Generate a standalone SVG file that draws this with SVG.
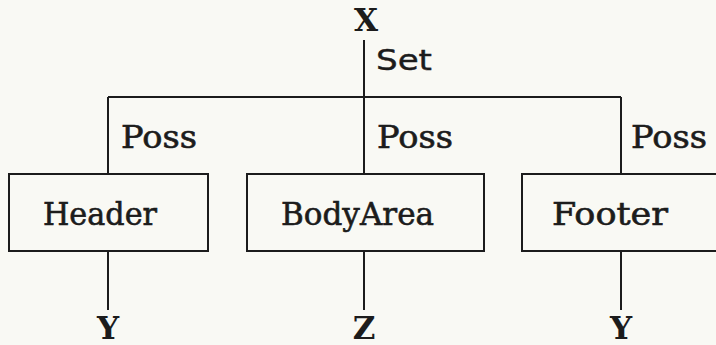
<svg xmlns="http://www.w3.org/2000/svg" width="716" height="345" viewBox="0 0 716 345">
  <style>
    .bg { fill: #f9f9f4; }
    .line { stroke: #1c1c1c; stroke-width: 2; fill: none; }
    .box { stroke: #1c1c1c; stroke-width: 2; fill: none; }
    .slab { font-family: "DejaVu Serif", "Liberation Serif", serif; font-size: 31px; fill: #1c1c1c; stroke: #1c1c1c; stroke-width: 0.6; }
    .end { font-weight: bold; stroke-width: 0; }
    .sans { font-family: "DejaVu Sans", "Liberation Sans", sans-serif; font-size: 28px; fill: #1c1c1c; stroke: #1c1c1c; stroke-width: 0.4; }
  </style>
  <rect class="bg" x="0" y="0" width="716" height="345"/>

  <!-- connectors and their labels -->
  <g id="connectors">
    <line class="line" x1="364" y1="40" x2="364" y2="174"/>
    <line class="line" x1="108" y1="97" x2="621" y2="97"/>
    <line class="line" x1="108" y1="97" x2="108" y2="174"/>
    <line class="line" x1="621" y1="97" x2="621" y2="174"/>
    <line class="line" x1="108" y1="251" x2="108" y2="310"/>
    <line class="line" x1="364" y1="251" x2="364" y2="310"/>
    <line class="line" x1="621" y1="251" x2="621" y2="310"/>
    <text class="sans" x="376" y="70" textLength="56" lengthAdjust="spacingAndGlyphs">Set</text>
    <text class="slab" x="121" y="148" textLength="76" lengthAdjust="spacingAndGlyphs">Poss</text>
    <text class="slab" x="377" y="148" textLength="76" lengthAdjust="spacingAndGlyphs">Poss</text>
    <text class="slab" x="631" y="148" textLength="76" lengthAdjust="spacingAndGlyphs">Poss</text>
  </g>

  <g id="node-x">
    <text class="slab end" x="366" y="31" text-anchor="middle">X</text>
  </g>

  <g id="node-header">
    <rect class="box" x="9" y="174" width="199" height="77"/>
    <text class="slab" x="43" y="225" textLength="114" lengthAdjust="spacingAndGlyphs">Header</text>
  </g>

  <g id="node-bodyarea">
    <rect class="box" x="247" y="174" width="237" height="77"/>
    <text class="slab" x="281" y="225" textLength="153" lengthAdjust="spacingAndGlyphs">BodyArea</text>
  </g>

  <g id="node-footer">
    <rect class="box" x="522" y="174" width="220" height="77"/>
    <text class="slab" x="552" y="225" textLength="116" lengthAdjust="spacingAndGlyphs">Footer</text>
  </g>

  <g id="node-y-left">
    <text class="slab end" x="108" y="339" text-anchor="middle">Y</text>
  </g>

  <g id="node-z">
    <text class="slab end" x="364" y="339" text-anchor="middle">Z</text>
  </g>

  <g id="node-y-right">
    <text class="slab end" x="621" y="339" text-anchor="middle">Y</text>
  </g>
</svg>
